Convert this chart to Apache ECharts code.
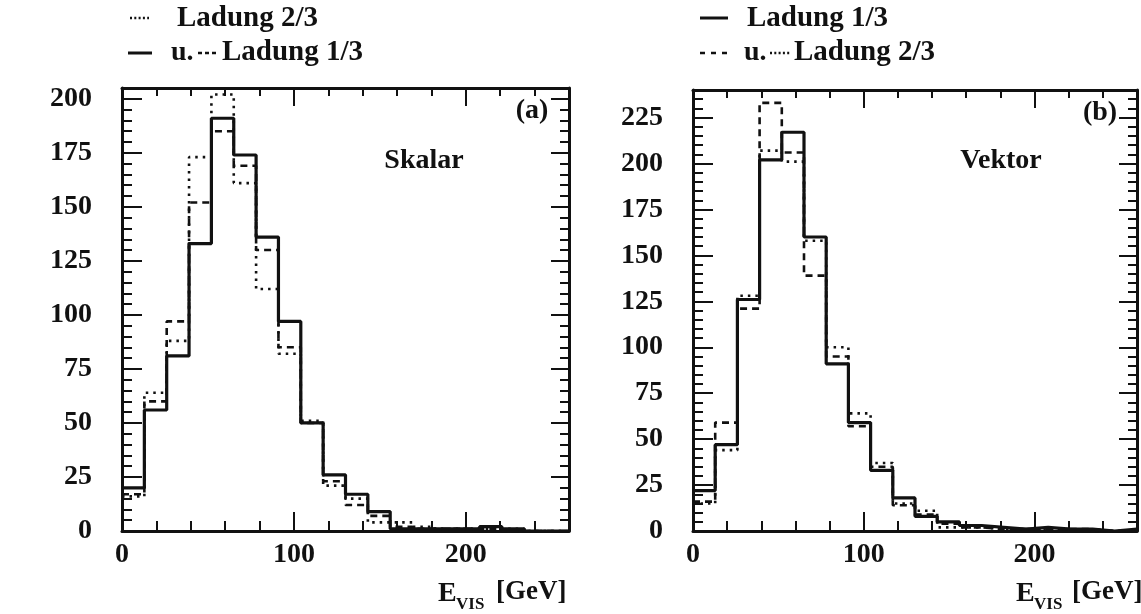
<!DOCTYPE html>
<html>
<head>
<meta charset="utf-8">
<script src="https://cdn.jsdelivr.net/npm/echarts@6/dist/echarts.min.js"></script>
<style>
html,body{margin:0;padding:0;background:#fff;}
#chart{width:1141px;height:614px;}
</style>
</head>
<body>
<div id="chart"></div>
<script>
// Bin edges (GeV), 20 bins of 13 GeV
const binEdges = [0,13,26,39,52,65,78,91,104,117,130,143,156,169,182,195,208,221,234,247,260];

// Panel (a) Skalar
const skalarSolid  = [20, 56, 81, 133, 191, 174, 136, 97, 50, 26, 17, 9, 1, 1, 1, 1, 2, 1, 0, 0];
const skalarDashed = [17, 60, 97, 152, 185, 169, 130, 85, 50, 23, 12, 7, 2, 1, 1, 1, 1, 0, 0, 0];
const skalarDotted = [16, 64, 88, 173, 202, 161, 112, 82, 51, 21, 15, 4, 4, 2, 1, 1, 1, 1, 0, 0];

// Panel (b) Vektor
const vektorSolid  = [22, 47, 126, 202, 217, 160, 91, 59, 33, 18, 8, 5, 3, 2, 1, 2, 1, 1, 0, 1];
const vektorDashed = [16, 59, 121, 233, 206, 139, 95, 57, 35, 14, 9, 4, 2, 1, 1, 1, 1, 1, 0, 0];
const vektorDotted = [15, 44, 128, 207, 201, 158, 100, 64, 37, 15, 11, 2, 2, 1, 1, 1, 1, 0, 0, 0];

const yMaxA = 205, yMaxB = 240, xMax = 260;

const INK = '#111';
const FONT = '"Liberation Serif", "DejaVu Serif", serif';

function steps(vals){
  const d = vals.map((v,i)=>[binEdges[i], v]);
  d.push([binEdges[binEdges.length-1], vals[vals.length-1]]);
  return d;
}

function xAxes(gi, max){
  const base = {gridIndex: gi, type:'value', min:0, max:max, splitLine:{show:false}};
  return [
    Object.assign({}, base, {position:'bottom', interval:100,
      axisLine:{show:true, onZero:false, lineStyle:{color:INK, width:3}},
      axisTick:{show:true, inside:true, length:19, lineStyle:{color:INK, width:2}},
      axisLabel:{show:true, color:INK, fontFamily:FONT, fontWeight:'bold', fontSize:28, margin:10, showMaxLabel:false}}),
    Object.assign({}, base, {position:'bottom', interval:20,
      axisLine:{show:false, onZero:false},
      axisTick:{show:true, inside:true, length:10, lineStyle:{color:INK, width:2}},
      axisLabel:{show:false}}),
    Object.assign({}, base, {position:'top', interval:100,
      axisLine:{show:true, onZero:false, lineStyle:{color:INK, width:3}},
      axisTick:{show:true, inside:true, length:18, lineStyle:{color:INK, width:2}},
      axisLabel:{show:false}}),
    Object.assign({}, base, {position:'top', interval:20,
      axisLine:{show:false, onZero:false},
      axisTick:{show:true, inside:true, length:8, lineStyle:{color:INK, width:2}},
      axisLabel:{show:false}})
  ];
}
function yAxes(gi, max){
  const base = {gridIndex: gi, type:'value', min:0, max:max, splitLine:{show:false}};
  return [
    Object.assign({}, base, {position:'left', interval:25,
      axisLine:{show:true, onZero:false, lineStyle:{color:INK, width:3}},
      axisTick:{show:true, inside:true, length:20, lineStyle:{color:INK, width:2}},
      axisLabel:{show:true, color:INK, fontFamily:FONT, fontWeight:'bold', fontSize:28, margin:30, showMaxLabel:false}}),
    Object.assign({}, base, {position:'left', interval:5,
      axisLine:{show:false, onZero:false},
      axisTick:{show:true, inside:true, length:10, lineStyle:{color:INK, width:2}},
      axisLabel:{show:false}}),
    Object.assign({}, base, {position:'right', interval:25,
      axisLine:{show:true, onZero:false, lineStyle:{color:INK, width:3}},
      axisTick:{show:true, inside:true, length:18, lineStyle:{color:INK, width:2}},
      axisLabel:{show:false}}),
    Object.assign({}, base, {position:'right', interval:5,
      axisLine:{show:false, onZero:false},
      axisTick:{show:true, inside:true, length:9, lineStyle:{color:INK, width:2}},
      axisLabel:{show:false}})
  ];
}

function series(xi, yi, vals, kind){
  const ls = {color:INK};
  if(kind==='solid'){ ls.width = 3.2; ls.type='solid'; }
  else if(kind==='dashed'){ ls.width = 2.6; ls.type=[7,5]; }
  else { ls.width = 2.6; ls.type=[2.5,5]; }
  return {type:'line', xAxisIndex:xi, yAxisIndex:yi, step:'end', symbol:'none',
    data: steps(vals), lineStyle: ls, silent:true, clip:true,
    z: kind==='solid'?5:(kind==='dashed'?4:3)};
}

function txt(t, x, y, size, align, extra){
  return Object.assign({type:'text', x:x, y:y, z:100, style:{text:t, font:'bold '+size+'px '+FONT, fill:INK, align:align||'left', verticalAlign:'middle'}}, extra||{});
}
function seg(x1,y1,x2,y2,dash,w){
  return {type:'line', z:100, shape:{x1:x1,y1:y1,x2:x2,y2:y2}, style:{stroke:INK, lineWidth:w||2.6, lineDash:dash||null}};
}

const chart = echarts.init(document.getElementById('chart'), null, {renderer:'canvas'});
chart.setOption({
  animation:false,
  backgroundColor:'#fff',
  grid:[
    {left:122, top:88, width:447, height:443},
    {left:693, top:90, width:444, height:441}
  ],
  xAxis: xAxes(0, xMax).concat(xAxes(1, xMax)),
  yAxis: yAxes(0, yMaxA).concat(yAxes(1, yMaxB)),
  series:[
    series(0,0,skalarDotted,'dotted'),
    series(0,0,skalarDashed,'dashed'),
    series(0,0,skalarSolid,'solid'),
    series(4,4,vektorDotted,'dotted'),
    series(4,4,vektorDashed,'dashed'),
    series(4,4,vektorSolid,'solid')
  ],
  graphic:[
    // Panel (a) legend
    seg(130,18,149,18,[2,2.3]),
    txt('Ladung 2/3', 177, 19, 29),
    seg(128,53,152,53,null,3),
    txt('u.', 171, 53, 28),
    seg(198,53,216,53,[4,3]),
    txt('Ladung 1/3', 222, 53, 29),
    // Panel (b) legend
    seg(700,18,728,18,null,3),
    txt('Ladung 1/3', 747, 19, 29),
    seg(700,53,727,53,[5,6]),
    txt('u.', 744, 53, 28),
    seg(770,53,790,53,[2,2.3]),
    txt('Ladung 2/3', 794, 53, 29),
    // annotations
    txt('(a)', 532, 111, 28, 'center'),
    txt('Skalar', 424, 161, 28, 'center'),
    txt('(b)', 1100, 113, 28, 'center'),
    txt('Vektor', 1001, 161, 28, 'center'),
    // y axis names
    txt('N', 15, 99, 28, 'center', {rotation:Math.PI/2, originX:15, originY:99}),
    txt('N', 591, 97, 28, 'center', {rotation:Math.PI/2, originX:591, originY:97}),
    // x axis names
    txt('E', 438, 594, 28),
    txt('VIS', 456, 605, 17),
    txt('[GeV]', 496, 592, 27),
    txt('E', 1016, 594, 28),
    txt('VIS', 1034, 605, 17),
    txt('[GeV]', 1072, 592, 27)
  ]
});
</script>
</body>
</html>
